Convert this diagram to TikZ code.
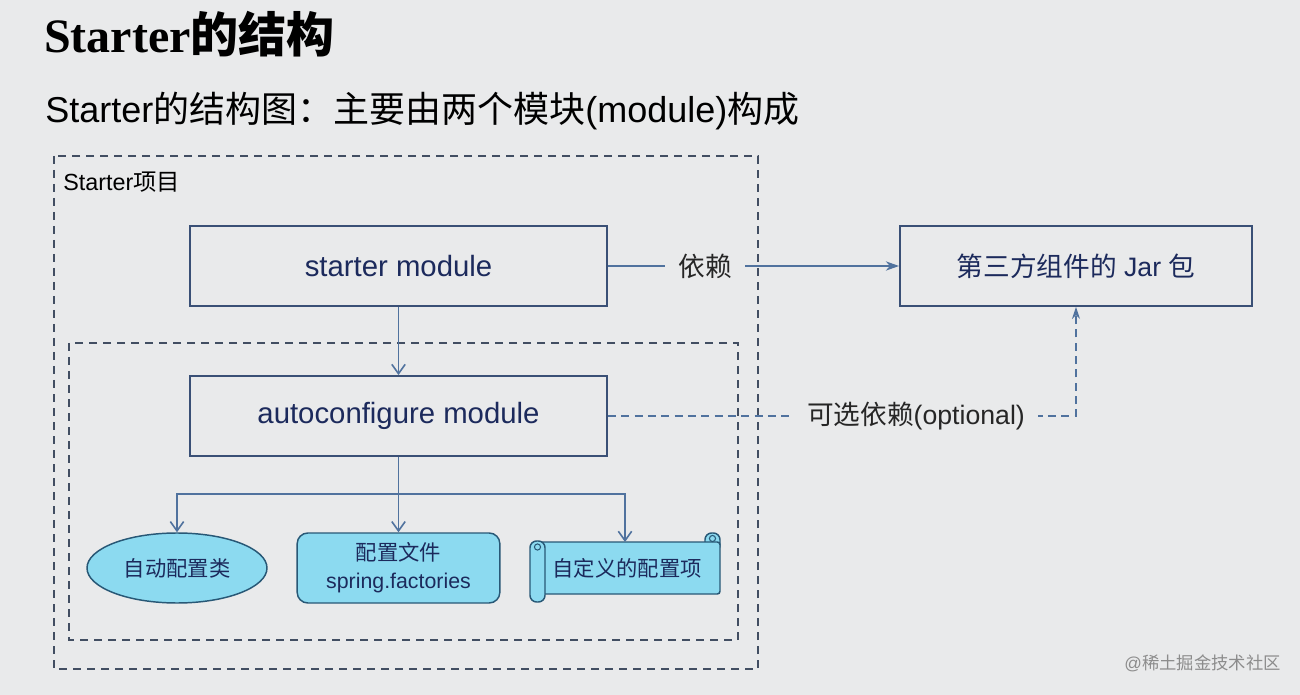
\documentclass[tikz,border=0pt]{standalone}
\usepackage{fontspec}
\setmainfont{Liberation Sans}
\newfontfamily\cjk{Noto Sans CJK SC}
\newfontfamily\titleserif{Liberation Serif}
\definecolor{bggray}{RGB}{233,234,235}
\definecolor{boxblue}{RGB}{58,80,118}
\definecolor{navy}{RGB}{28,42,92}
\definecolor{linkblue}{RGB}{80,114,158}
\definecolor{framegray}{RGB}{66,78,98}
\definecolor{leafcyan}{RGB}{140,218,240}
\definecolor{leafedge}{RGB}{40,88,118}
\usetikzlibrary{shapes, arrows.meta, positioning, calc}
\newcommand{\zh}[1]{{\cjk #1}}

\begin{document}
\begin{tikzpicture}[
  x=0.75pt, y=-0.75pt,
  modbox/.style={draw=boxblue, line width=1.4pt, minimum width=312.75pt, minimum height=60pt, text=navy, font=\fontsize{22}{26}\selectfont},
  jarbox/.style={modbox, minimum width=264pt, font=\fontsize{20}{24}\selectfont},
  leaf/.style={draw=leafedge, fill=leafcyan, line width=1.1pt, text=navy, font=\fontsize{16}{21}\selectfont},
  scroll/.style={draw=leafedge, fill=leafcyan, line width=1.1pt},
  frame/.style={draw=framegray, line width=1.3pt, dash pattern=on 6pt off 4.5pt},
  link/.style={draw=linkblue, line width=1.2pt},
  vtip/.style={-{Straight Barb[length=7pt,width=10pt]}},
  lbl/.style={fill=bggray, inner xsep=10pt, text=black!85, font=\fontsize{20}{24}\selectfont}
]
  \fill[bggray] (0,0) rectangle (1300,695);
  \useasboundingbox (0,0) rectangle (1300,695);

  % headings
  \node[anchor=base west, inner sep=0, font=\fontsize{36}{42}\selectfont] (title) at (44,53)
    {{\titleserif\bfseries Starter}\zh{\bfseries 的结构}};
  \node[anchor=base west, inner sep=0, font=\fontsize{27}{31}\selectfont] (sub) at (45,123)
    {Starter\zh{的结构图：主要由两个模块}(module)\zh{构成}};

  % project frames
  \draw[frame] (54,156) rectangle (758,669);
  \draw[frame] (69,343) rectangle (738,640);
  \node[anchor=base west, inner sep=0, font=\fontsize{17.5}{20}\selectfont] (proj) at (63,191) {Starter\zh{项目}};

  \node[modbox] (starter) at (398.5,266) {starter module};
  \node[modbox] (auto) at (398.5,416) {autoconfigure module};
  \node[jarbox] (jar) at (1076,266) {\zh{第三方组件的} Jar \zh{包}};

  \node[leaf, ellipse, minimum width=135pt, minimum height=52.5pt] (cls) at (177,568) {\zh{自动配置类}};
  \node[leaf, rounded corners=8pt, minimum width=152pt, minimum height=52.5pt, align=center] (file) at (398.5,568)
    {\zh{配置文件}\\spring.factories};

  % scroll
  \filldraw[scroll, rounded corners=5pt] (705,533) rectangle (720,552);
  \filldraw[scroll, rounded corners=2pt] (537,542) rectangle (720,594);
  \filldraw[scroll, rounded corners=5pt] (530,541) rectangle (545,602);
  \draw[leafedge, line width=0.8pt] (712.5,538.5) circle[radius=2.3pt];
  \draw[leafedge, line width=0.8pt] (537.5,547) circle[radius=2.3pt];
  \node[text=navy, font=\fontsize{16}{21}\selectfont] (item) at (627,568) {\zh{自定义的配置项}};
  \coordinate (itemtop) at (625,542);

  % connectors
  \draw[link, -{Stealth[length=10pt,width=7pt]}] (starter) -- (jar) node[lbl, pos=0.335] {\zh{依赖}};
  \draw[link, vtip] (starter) -- (auto);
  \coordinate (fork) at (398.5,494);
  \draw[link] (auto.south) -- (fork);
  \draw[link, vtip] (fork) -| (cls.north);
  \draw[link, vtip] (fork) -- (file.north);
  \draw[link, vtip] (fork) -| (itemtop);
  \draw[link, dash pattern=on 6pt off 4pt, -{Stealth[length=9pt,width=6pt]}] (auto) -| (jar.south)
    node[lbl, pos=0.329] {\zh{可选依赖}(optional)};

  \node[anchor=base east, inner sep=0, text=black!45, font=\fontsize{13}{15}\selectfont] (mark) at (1281,669)
    {@\zh{稀土掘金技术社区}};
\end{tikzpicture}
\end{document}
